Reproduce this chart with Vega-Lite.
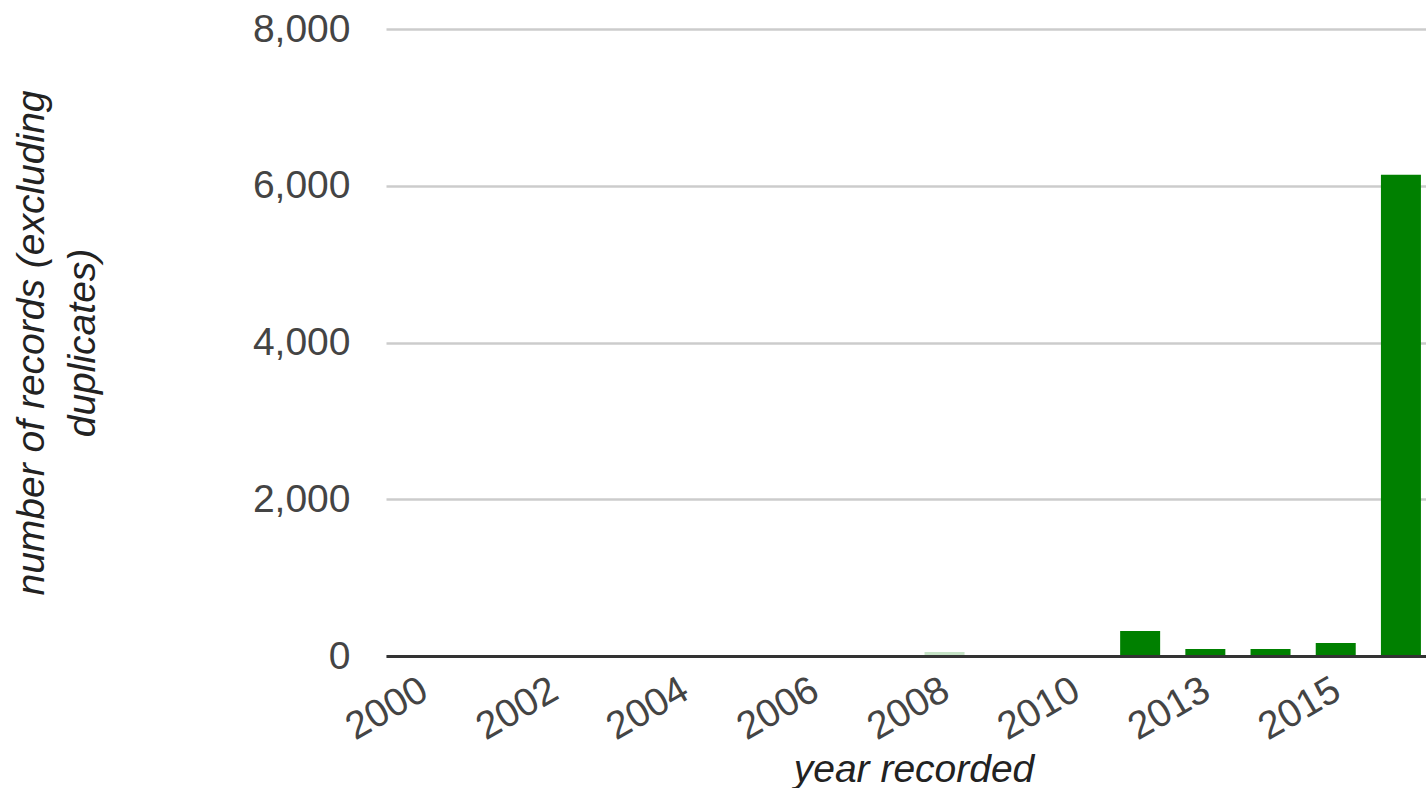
{
  "$schema": "https://vega.github.io/schema/vega-lite/v6.json",
  "width": 1040,
  "height": 627,
  "autosize": {"type": "none"},
  "padding": {"left": 386, "top": 29, "right": 0, "bottom": 132},
  "background": "white",
  "config": {
    "view": {"stroke": null},
    "font": "Liberation Sans"
  },
  "data": {
    "values": [
      {"year": "2000", "records": 0},
      {"year": "2001", "records": 0},
      {"year": "2002", "records": 0},
      {"year": "2003", "records": 0},
      {"year": "2004", "records": 0},
      {"year": "2005", "records": 0},
      {"year": "2006", "records": 0},
      {"year": "2007", "records": 0},
      {"year": "2008", "records": 50},
      {"year": "2009", "records": 0},
      {"year": "2010", "records": 0},
      {"year": "2012", "records": 319},
      {"year": "2013", "records": 89},
      {"year": "2014", "records": 89},
      {"year": "2015", "records": 166},
      {"year": "2016", "records": 6140}
    ]
  },
  "mark": {"type": "bar"},
  "encoding": {
    "x": {
      "field": "year",
      "type": "ordinal",
      "sort": null,
      "scale": {"paddingInner": 0.3865, "paddingOuter": 0.169, "align": 0.77},
      "axis": {
        "values": ["2000", "2002", "2004", "2006", "2008", "2010", "2013", "2015"],
        "labelAngle": -30,
        "labelAlign": "right",
        "labelBaseline": "top",
        "labelPadding": 14,
        "labelOffset": -8,
        "labelFontSize": 39,
        "labelColor": "#444444",
        "labelOverlap": false,
        "labelBound": false,
        "ticks": false,
        "grid": false,
        "domainColor": "#333333",
        "domainWidth": 3,
        "zindex": 1,
        "title": "year recorded",
        "titleFontSize": 39,
        "titleFontStyle": "italic",
        "titleFontWeight": "normal",
        "titleColor": "#222222",
        "titleAlign": "center",
        "titleBaseline": "alphabetic",
        "titleX": 527.5,
        "titleY": 125
      }
    },
    "y": {
      "field": "records",
      "type": "quantitative",
      "scale": {"domain": [0, 8000], "nice": false},
      "axis": {
        "values": [0, 2000, 4000, 6000, 8000],
        "format": ",d",
        "domain": false,
        "ticks": false,
        "grid": true,
        "gridColor": "#cccccc",
        "gridWidth": 2.5,
        "labelPadding": 36,
        "labelFontSize": 39,
        "labelColor": "#444444",
        "title": ["number of records (excluding", "duplicates)"],
        "titleAngle": -90,
        "titleAlign": "center",
        "titleBaseline": "alphabetic",
        "titleX": -342.5,
        "titleY": 313.5,
        "titleLineHeight": 51,
        "titleFontSize": 39,
        "titleFontStyle": "italic",
        "titleFontWeight": "normal",
        "titleColor": "#222222"
      }
    },
    "color": {
      "condition": {"test": "datum.year === '2008'", "value": "#c6e3c6"},
      "value": "#008000"
    }
  }
}
